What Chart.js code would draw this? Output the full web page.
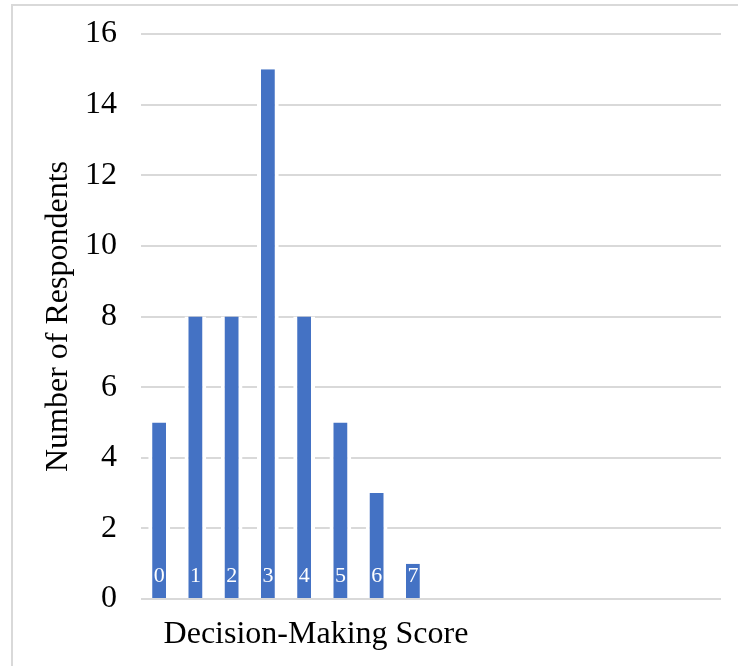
<!DOCTYPE html>
<html>
<head>
<meta charset="utf-8">
<script src="https://cdn.jsdelivr.net/npm/chart.js@4.4.1/dist/chart.umd.min.js"></script>
<style>
  html, body { margin: 0; padding: 0; background: #fff; }
  #frame {
    position: absolute; left: 11px; top: 4px; right: 0; bottom: 0;
    border-left: 2px solid #d9d9d9; border-top: 2px solid #d9d9d9;
  }
  #wrap { position: absolute; left: 0; top: 0; width: 738px; height: 666px; }
</style>
</head>
<body>
<div id="frame"></div>
<div id="wrap"><canvas id="chart"></canvas></div>
<script>
// Decision-making scores (x categories) and how many respondents got each one
var scores = ['0', '1', '2', '3', '4', '5', '6', '7', '8', '9', '10', '11', '12', '13', '14', '15'];
var respondents = [5, 8, 8, 15, 8, 5, 3, 1, null, null, null, null, null, null, null, null];
var yTicks = [0, 2, 4, 6, 8, 10, 12, 14, 16];

var serif = "'Liberation Serif', 'Times New Roman', serif";

// category name written in white at the base of each bar
var barLabels = {
    id: 'barLabels',
    afterDatasetsDraw: function(chart) {
        var ctx = chart.ctx;
        var meta = chart.getDatasetMeta(0);
        var base = chart.scales.y.getPixelForValue(0);
        ctx.save();
        ctx.fillStyle = '#ffffff';
        ctx.font = '22px ' + serif;
        ctx.textAlign = 'center';
        ctx.textBaseline = 'middle';
        meta.data.forEach(function(bar, i) {
            if (respondents[i] == null) return;
            ctx.fillText(scores[i], bar.x, base - 23);
        });
        ctx.restore();
    }
};

// x axis title sits left of centre in the original
var xTitle = {
    id: 'xTitle',
    afterDraw: function(chart) {
        var ctx = chart.ctx;
        var area = chart.chartArea;
        ctx.save();
        ctx.fillStyle = '#000000';
        ctx.font = '32px ' + serif;
        ctx.textAlign = 'center';
        ctx.textBaseline = 'middle';
        ctx.fillText('Decision-Making Score', area.left + 175, area.bottom + 36);
        ctx.restore();
    }
};

new Chart(document.getElementById('chart'), {
    type: 'bar',
    data: {
        labels: scores,
        datasets: [{
            data: respondents,
            backgroundColor: '#4472c4',
            borderColor: '#ffffff',
            borderWidth: { left: 4, right: 4, top: 0, bottom: 0 },
            borderSkipped: false,
            barPercentage: 0.6,
            categoryPercentage: 1
        }]
    },
    options: {
        responsive: true,
        maintainAspectRatio: false,
        animation: false,
        layout: { padding: { top: 34, right: 17, bottom: 0, left: 0 } },
        plugins: {
            legend: { display: false },
            tooltip: { enabled: false }
        },
        scales: {
            x: {
                grid: { display: false },
                border: { display: false },
                ticks: { display: false },
                afterFit: function(scale) { scale.height = 67; }
            },
            y: {
                min: 0,
                max: 16,
                afterBuildTicks: function(scale) {
                    scale.ticks = yTicks.map(function(v) { return { value: v }; });
                },
                grid: { color: '#d9d9d9', lineWidth: 2, drawTicks: false },
                border: { display: false },
                ticks: {
                    padding: 24,
                    color: '#000000',
                    font: { family: serif, size: 32 }
                },
                title: {
                    display: true,
                    text: 'Number of Respondents',
                    color: '#000000',
                    font: { family: serif, size: 32 },
                    padding: { top: 39, bottom: 0 }
                },
                afterFit: function(scale) {
                    scale.width = 141;
                    scale.paddingTop = 0;
                    scale.paddingBottom = 0;
                }
            }
        }
    },
    plugins: [barLabels, xTitle]
});
</script>
</body>
</html>
